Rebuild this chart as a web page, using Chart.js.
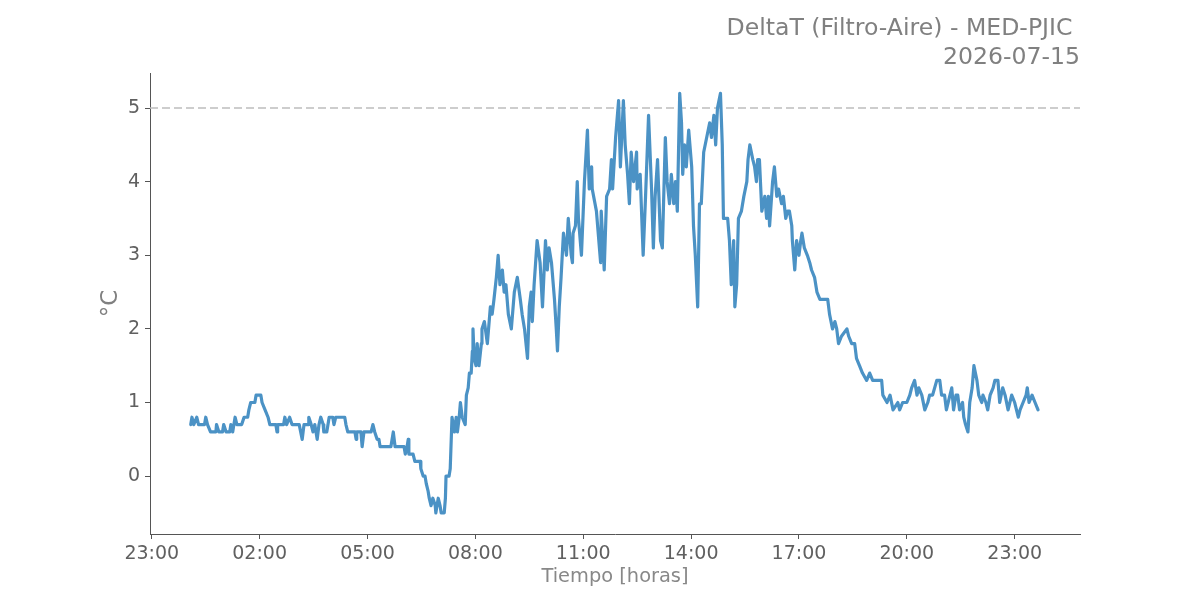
<!DOCTYPE html>
<html>
<head>
<meta charset="utf-8">
<script src="https://cdn.jsdelivr.net/npm/chart.js@4.4.1/dist/chart.umd.min.js"></script>
<style>
  html, body { margin: 0; padding: 0; background: #ffffff; }
  #wrap { width: 1200px; height: 600px; }
</style>
</head>
<body>
<div id="wrap"><canvas id="c" width="1200" height="600"></canvas></div>
<script>
// ---- data (time in minutes since 00:00 of 2026-07-15, DeltaT in °C) ----
const minutes = [
  5,7,10,15,18,28,30,33,38,47,48,52,58,60,64,70,72,75,79,82,90,94,100,102,105,112,114,122,124,129,134,137,
  147,149,150,160,162,165,170,174,186,191,194,201,202,206,209,212,216,219,222,226,227,232,236,242,244,247,
  262,264,267,279,281,282,289,291,294,306,309,312,316,319,321,339,343,346,361,363,366,368,369,376,379,388,
  389,393,396,398,401,403,406,409,413,414,418,421,423,428,430,431,436,438,441,445,448,450,453,455,458,463,
  465,468,470,473,475,476,478,481,483,486,490,491,495,500,505,508,511,515,518,521,525,528,531,535,540,545,
  550,555,558,562,567,570,573,575,578,583,588,592,597,600,603,607,612,615,617,620,623,627,632,635,640,642,
  643,647,650,652,657,662,667,670,674,675,682,689,690,695,699,704,707,709,714,719,722,727,730,734,737,740,
  744,749,750,755,760,764,769,774,777,780,784,789,792,797,800,804,807,811,814,817,821,824,826,829,832,836,
  841,844,847,851,854,857,861,866,871,874,878,881,884,889,892,894,901,904,907,911,913,916,919,924,928,933,
  935,938,943,946,949,951,954,958,963,966,969,971,976,979,983,986,991,994,998,1001,1004,1008,1009,1013,1016,
  1020,1023,1025,1029,1034,1038,1041,1046,1050,1055,1068,1071,1076,1080,1083,1086,1091,1100,1103,1108,1113,
  1116,1121,1126,1133,1138,1143,1152,1158,1160,1167,1172,1177,1185,1188,1193,1200,1205,1208,1213,1217,1220,
  1225,1230,1235,1238,1243,1250,1255,1258,1263,1266,1272,1275,1278,1282,1285,1288,1293,1295,1298,1302,1305,
  1309,1312,1317,1320,1325,1327,1332,1335,1339,1344,1347,1352,1355,1360,1364,1369,1375,1380,1386,1389,1394,
  1399,1401,1404,1409,1414,1419
];
const deltaT = [
  0.7,0.8,0.7,0.8,0.7,0.7,0.8,0.7,0.6,0.6,0.7,0.6,0.6,0.7,0.6,0.6,0.7,0.6,0.8,0.7,0.7,0.8,0.8,0.9,1.0,1.0,1.1,1.1,1.0,0.9,0.8,0.7,
  0.7,0.6,0.7,0.7,0.8,0.7,0.8,0.7,0.7,0.5,0.7,0.7,0.8,0.7,0.6,0.7,0.5,0.7,0.8,0.7,0.6,0.6,0.8,0.8,0.7,0.8,
  0.8,0.7,0.6,0.6,0.5,0.6,0.6,0.4,0.6,0.6,0.7,0.6,0.5,0.5,0.4,0.4,0.6,0.4,0.4,0.3,0.4,0.5,0.3,0.3,0.2,0.2,
  0.1,0.0,0.0,-0.1,-0.2,-0.3,-0.4,-0.3,-0.4,-0.5,-0.3,-0.4,-0.5,-0.5,-0.3,0.0,0.0,0.1,0.8,0.6,0.8,0.6,0.8,1.0,0.8,0.7,
  1.1,1.2,1.4,1.4,1.7,2.0,1.6,1.5,1.8,1.5,1.8,2.0,2.1,1.8,2.3,2.2,2.4,2.7,3.0,2.6,2.8,2.5,2.6,2.2,2.0,2.5,
  2.7,2.4,2.2,2.0,1.6,2.3,2.5,2.1,2.6,3.2,2.9,2.3,3.2,2.8,3.1,2.9,2.4,2.0,1.7,2.3,2.7,3.3,3.0,3.5,3.0,2.9,
  3.3,3.4,4.0,3.5,3.0,4.0,4.7,3.9,4.2,3.9,3.6,2.9,3.6,2.8,3.8,3.9,4.3,3.9,4.6,5.1,4.2,5.1,4.5,4.1,3.7,4.4,
  4.0,4.4,3.9,4.1,3.0,3.8,4.9,3.9,3.1,3.8,4.3,3.2,3.1,4.6,4.0,3.7,4.1,3.7,4.0,3.6,5.2,4.8,4.1,4.5,4.2,4.7,
  4.2,3.4,3.0,2.3,3.7,3.7,4.4,4.6,4.8,4.6,4.9,4.5,5.0,5.2,4.5,3.5,3.5,3.2,2.6,3.2,2.3,2.6,3.5,3.6,3.8,4.0,
  4.3,4.5,4.3,4.2,4.0,4.3,4.3,3.6,3.8,3.5,3.8,3.4,4.0,4.2,3.8,3.9,3.7,3.8,3.5,3.6,3.6,3.4,3.2,2.8,3.2,
  3.0,3.2,3.3,3.1,3.0,2.9,2.8,2.7,2.5,2.4,2.4,2.2,2.0,2.1,2.0,1.8,1.9,2.0,1.9,1.8,1.8,
  1.6,1.5,1.4,1.3,1.4,1.3,1.3,1.3,1.1,1.0,1.1,0.9,1.0,0.9,1.0,1.0,1.1,1.2,1.3,1.1,1.2,
  1.1,0.9,1.0,1.1,1.1,1.3,1.3,1.1,1.1,0.9,1.1,1.2,0.9,1.1,1.1,0.9,1.0,0.8,0.7,0.6,1.0,
  1.2,1.5,1.3,1.1,1.0,1.1,1.0,0.9,1.1,1.2,1.3,1.3,1.0,1.2,1.1,0.9,1.1,1.0,0.8,0.9,1.0,
  1.1,1.2,1.0,1.1,1.0,0.9
];
const xTickMinutes = [-60, 120, 300, 480, 660, 840, 1020, 1200, 1380];
const yTickValues = [0, 1, 2, 3, 4, 5];
const thresholdValue = 5;
const xRange = [-63, 1489];
const yRange = [-0.786, 5.474];
const titleLines = ['DeltaT (Filtro-Aire) - MED-PJIC ', '2026-07-15'];
const xTitle = 'Tiempo [horas]';
const yTitle = '°C';

// ---- chart ----
const fmt = m => {
  const h = ((Math.floor(m / 60) % 24) + 24) % 24;
  const mm = ((m % 60) + 60) % 60;
  return String(h).padStart(2, '0') + ':' + String(mm).padStart(2, '0');
};
const seriesPts = minutes.map((m, i) => ({ x: m, y: deltaT[i] }));
const thresholdPts = xRange.map(x => ({ x: x, y: thresholdValue }));
const FONT = "'DejaVu Sans', sans-serif";

new Chart(document.getElementById('c'), {
  type: 'line',
  data: {
    datasets: [
      {
        data: seriesPts,
        borderColor: '#4b92c5',
        borderWidth: 3.2,
        pointRadius: 0,
        tension: 0,
        fill: false,
        borderJoinStyle: 'round',
        borderCapStyle: 'round'
      },
      {
        data: thresholdPts,
        borderColor: '#bdbdbd',
        borderWidth: 1.6,
        borderDash: [8, 4],
        pointRadius: 0,
        fill: false
      }
    ]
  },
  options: {
    responsive: false,
    animation: false,
    events: [],
    layout: { padding: { left: 0, right: 120, top: 0, bottom: 0 } },
    plugins: {
      legend: { display: false },
      tooltip: { enabled: false },
      title: {
        display: true,
        text: titleLines,
        align: 'end',
        color: '#808080',
        font: { family: FONT, size: 23.6, weight: 'normal', lineHeight: 1.2 },
        padding: { top: 15, bottom: 1.5 }
      }
    },
    scales: {
      x: {
        type: 'linear',
        min: xRange[0],
        max: xRange[1],
        afterBuildTicks: s => { s.ticks = xTickMinutes.map(v => ({ value: v })); },
        afterFit: s => { s.height = 66; },
        ticks: {
          callback: v => fmt(v),
          color: '#606060',
          font: { family: FONT, size: 19 },
          padding: 4,
          maxRotation: 0,
          autoSkip: false
        },
        grid: { drawOnChartArea: false, drawTicks: true, tickLength: 5, color: '#555555', tickWidth: 1 },
        border: { display: true, color: '#555555', width: 1 },
        title: {
          display: true,
          text: xTitle,
          color: '#888888',
          font: { family: FONT, size: 19.4, lineHeight: 1.2 },
          padding: { top: 0, bottom: 11.5 }
        }
      },
      y: {
        type: 'linear',
        min: yRange[0],
        max: yRange[1],
        afterBuildTicks: s => { s.ticks = yTickValues.map(v => ({ value: v })); },
        afterFit: s => { s.width = 150; },
        ticks: {
          color: '#606060',
          font: { family: FONT, size: 19 },
          padding: 5,
          callback: v => String(v)
        },
        grid: { drawOnChartArea: false, drawTicks: true, tickLength: 5, color: '#555555', tickWidth: 1 },
        border: { display: true, color: '#555555', width: 1 },
        title: {
          display: true,
          text: yTitle,
          color: '#808080',
          font: { family: FONT, size: 23, lineHeight: 1.2 },
          padding: { top: 97, bottom: 0 }
        }
      }
    }
  }
});
</script>
</body>
</html>
